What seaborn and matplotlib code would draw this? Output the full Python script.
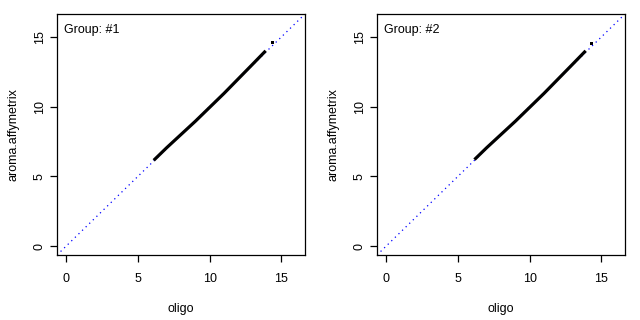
import matplotlib
matplotlib.use("Agg")
import matplotlib.pyplot as plt
import seaborn as sns
import pandas as pd

# Band centre points (oligo vs aroma.affymetrix)
g1_oligo = [6.1, 7.0, 8.0, 9.0, 10.0, 11.0, 12.0, 13.0, 13.9]
g1_aroma = [6.15, 7.05, 8.0, 8.95, 9.95, 10.95, 12.0, 13.05, 14.0]
g1_out_x = [14.4]
g1_out_y = [14.6]

g2_oligo = [6.15, 7.0, 8.0, 9.0, 10.0, 11.0, 12.0, 13.0, 13.9]
g2_aroma = [6.2, 7.05, 8.0, 8.95, 9.95, 10.95, 12.0, 13.05, 14.0]
g2_out_x = [14.3]
g2_out_y = [14.5]

groups = ["Group: #1", "Group: #2"]
ticks = [0, 5, 10, 15]
lims = (-0.64, 16.64)

sns.set_style("ticks")
plt.rcParams['font.family'] = ['Liberation Sans', 'DejaVu Sans']

fig = plt.figure(figsize=(6.4, 3.2), dpi=100)
axes = [fig.add_axes([57/640, 65/320, 248/640, 241/320]),
        fig.add_axes([377/640, 65/320, 248/640, 241/320])]

data = [(g1_oligo, g1_aroma, g1_out_x, g1_out_y),
        (g2_oligo, g2_aroma, g2_out_x, g2_out_y)]

for ax, label, (xo, ya, ox, oy) in zip(axes, groups, data):
    ax.axline((0, 0), slope=1, color="blue", lw=0.9, dashes=(1, 3))
    df = pd.DataFrame({"oligo": xo, "aroma": ya})
    sns.lineplot(data=df, x="oligo", y="aroma", ax=ax, color="black",
                 lw=2.3, solid_capstyle="butt", sort=False)
    sns.scatterplot(x=ox, y=oy, ax=ax, color="black", s=5, marker="s",
                    edgecolor="none")
    ax.set_xlim(lims)
    ax.set_ylim(lims)
    ax.set_xticks(ticks)
    ax.set_yticks(ticks)
    ax.set_xticklabels([str(t) for t in ticks], fontsize=9)
    ax.set_yticklabels([str(t) for t in ticks], fontsize=9, rotation=90,
                       va="center")
    ax.tick_params(axis="both", direction="out", length=5, width=0.9,
                   color="black", labelcolor="black", bottom=True, left=True,
                   top=False, right=False)
    ax.tick_params(axis="x", pad=8)
    ax.tick_params(axis="y", pad=3)
    for s in ax.spines.values():
        s.set_visible(True)
        s.set_color("black")
        s.set_linewidth(0.9)
    ax.set_xlabel("oligo", fontsize=9, labelpad=13, color="black")
    ax.set_ylabel("aroma.affymetrix", fontsize=9, labelpad=10, color="black")
    ax.text(0.028, 0.934, label, transform=ax.transAxes, fontsize=9,
            ha="left", va="center", color="black")

fig.savefig("out.png", dpi=100, facecolor="white")
